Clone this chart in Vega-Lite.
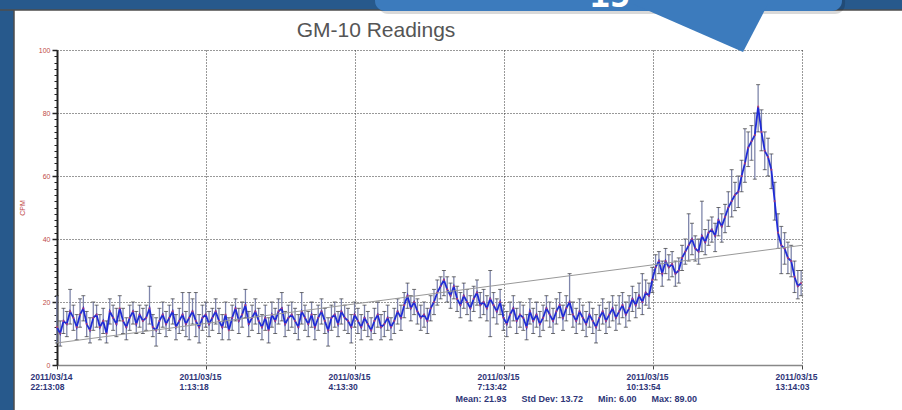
{
"$schema":"https://vega.github.io/schema/vega-lite/v6.json",
"width":745,"height":315,
"autosize":"none",
"padding":{"left":57,"top":50,"right":100,"bottom":45},
"background":"white",
"config":{"view":{"stroke":null},"axis":{"labelOverlap":false}},
"resolve":{"axis":{"y":"independent"}},
"datasets":{
"trend":[{"t":"2011-03-14 22:13:08","v":7},{"t":"2011-03-15 13:14:03","v":38}],
"cpm":[
{"t":"2011-03-14 22:13","v":12,"lo":7,"hi":22},
{"t":"2011-03-14 22:17","v":10,"lo":6,"hi":14},
{"t":"2011-03-14 22:21","v":14,"lo":10,"hi":18},
{"t":"2011-03-14 22:25","v":13,"lo":9,"hi":17},
{"t":"2011-03-14 22:29","v":17,"lo":13,"hi":24},
{"t":"2011-03-14 22:33","v":15,"lo":11,"hi":19},
{"t":"2011-03-14 22:37","v":12,"lo":8,"hi":16},
{"t":"2011-03-14 22:41","v":16,"lo":12,"hi":21},
{"t":"2011-03-14 22:45","v":18,"lo":14,"hi":22},
{"t":"2011-03-14 22:49","v":13,"lo":9,"hi":17},
{"t":"2011-03-14 22:53","v":11,"lo":7,"hi":15},
{"t":"2011-03-14 22:57","v":15,"lo":11,"hi":20},
{"t":"2011-03-14 23:01","v":16,"lo":12,"hi":19},
{"t":"2011-03-14 23:05","v":12,"lo":8,"hi":16},
{"t":"2011-03-14 23:09","v":14,"lo":10,"hi":18},
{"t":"2011-03-14 23:13","v":10,"lo":7,"hi":14},
{"t":"2011-03-14 23:17","v":17,"lo":13,"hi":21},
{"t":"2011-03-14 23:21","v":15,"lo":11,"hi":19},
{"t":"2011-03-14 23:25","v":13,"lo":9,"hi":18},
{"t":"2011-03-14 23:29","v":18,"lo":14,"hi":22},
{"t":"2011-03-14 23:33","v":14,"lo":10,"hi":18},
{"t":"2011-03-14 23:37","v":12,"lo":8,"hi":15},
{"t":"2011-03-14 23:41","v":15,"lo":11,"hi":19},
{"t":"2011-03-14 23:45","v":17,"lo":13,"hi":20},
{"t":"2011-03-14 23:49","v":13,"lo":10,"hi":17},
{"t":"2011-03-14 23:53","v":16,"lo":12,"hi":19},
{"t":"2011-03-14 23:57","v":14,"lo":10,"hi":18},
{"t":"2011-03-15 00:01","v":15,"lo":11,"hi":19},
{"t":"2011-03-15 00:05","v":18,"lo":13,"hi":25},
{"t":"2011-03-15 00:09","v":12,"lo":9,"hi":16},
{"t":"2011-03-15 00:13","v":11,"lo":6,"hi":15},
{"t":"2011-03-15 00:17","v":14,"lo":10,"hi":18},
{"t":"2011-03-15 00:21","v":16,"lo":12,"hi":20},
{"t":"2011-03-15 00:25","v":13,"lo":9,"hi":17},
{"t":"2011-03-15 00:29","v":15,"lo":11,"hi":19},
{"t":"2011-03-15 00:33","v":17,"lo":13,"hi":21},
{"t":"2011-03-15 00:37","v":12,"lo":8,"hi":16},
{"t":"2011-03-15 00:41","v":14,"lo":10,"hi":18},
{"t":"2011-03-15 00:45","v":16,"lo":11,"hi":23},
{"t":"2011-03-15 00:49","v":13,"lo":9,"hi":17},
{"t":"2011-03-15 00:53","v":15,"lo":8,"hi":23},
{"t":"2011-03-15 00:57","v":17,"lo":13,"hi":21},
{"t":"2011-03-15 01:01","v":14,"lo":9,"hi":23},
{"t":"2011-03-15 01:05","v":12,"lo":7,"hi":16},
{"t":"2011-03-15 01:09","v":15,"lo":11,"hi":19},
{"t":"2011-03-15 01:13","v":16,"lo":12,"hi":20},
{"t":"2011-03-15 01:17","v":13,"lo":9,"hi":17},
{"t":"2011-03-15 01:21","v":15,"lo":11,"hi":18},
{"t":"2011-03-15 01:25","v":17,"lo":13,"hi":21},
{"t":"2011-03-15 01:29","v":14,"lo":10,"hi":18},
{"t":"2011-03-15 01:33","v":12,"lo":8,"hi":16},
{"t":"2011-03-15 01:37","v":16,"lo":12,"hi":20},
{"t":"2011-03-15 01:41","v":11,"lo":8,"hi":15},
{"t":"2011-03-15 01:45","v":15,"lo":11,"hi":19},
{"t":"2011-03-15 01:49","v":18,"lo":14,"hi":21},
{"t":"2011-03-15 01:53","v":14,"lo":10,"hi":18},
{"t":"2011-03-15 01:57","v":16,"lo":12,"hi":20},
{"t":"2011-03-15 02:01","v":19,"lo":15,"hi":24},
{"t":"2011-03-15 02:05","v":13,"lo":9,"hi":17},
{"t":"2011-03-15 02:09","v":15,"lo":11,"hi":19},
{"t":"2011-03-15 02:13","v":17,"lo":13,"hi":21},
{"t":"2011-03-15 02:17","v":14,"lo":10,"hi":18},
{"t":"2011-03-15 02:21","v":12,"lo":8,"hi":16},
{"t":"2011-03-15 02:25","v":15,"lo":11,"hi":19},
{"t":"2011-03-15 02:29","v":11,"lo":7,"hi":15},
{"t":"2011-03-15 02:33","v":16,"lo":12,"hi":20},
{"t":"2011-03-15 02:37","v":14,"lo":10,"hi":18},
{"t":"2011-03-15 02:41","v":17,"lo":13,"hi":21},
{"t":"2011-03-15 02:45","v":18,"lo":14,"hi":23},
{"t":"2011-03-15 02:49","v":13,"lo":9,"hi":17},
{"t":"2011-03-15 02:53","v":15,"lo":11,"hi":19},
{"t":"2011-03-15 02:57","v":16,"lo":12,"hi":20},
{"t":"2011-03-15 03:01","v":14,"lo":10,"hi":18},
{"t":"2011-03-15 03:05","v":12,"lo":8,"hi":16},
{"t":"2011-03-15 03:09","v":17,"lo":13,"hi":23},
{"t":"2011-03-15 03:13","v":15,"lo":11,"hi":19},
{"t":"2011-03-15 03:17","v":13,"lo":9,"hi":17},
{"t":"2011-03-15 03:21","v":16,"lo":12,"hi":20},
{"t":"2011-03-15 03:25","v":12,"lo":8,"hi":16},
{"t":"2011-03-15 03:29","v":15,"lo":11,"hi":19},
{"t":"2011-03-15 03:33","v":17,"lo":13,"hi":21},
{"t":"2011-03-15 03:37","v":14,"lo":10,"hi":18},
{"t":"2011-03-15 03:41","v":11,"lo":6,"hi":15},
{"t":"2011-03-15 03:45","v":15,"lo":11,"hi":19},
{"t":"2011-03-15 03:49","v":16,"lo":12,"hi":20},
{"t":"2011-03-15 03:53","v":13,"lo":9,"hi":17},
{"t":"2011-03-15 03:57","v":17,"lo":13,"hi":21},
{"t":"2011-03-15 04:01","v":15,"lo":11,"hi":19},
{"t":"2011-03-15 04:05","v":14,"lo":10,"hi":18},
{"t":"2011-03-15 04:09","v":12,"lo":7,"hi":16},
{"t":"2011-03-15 04:13","v":16,"lo":12,"hi":20},
{"t":"2011-03-15 04:17","v":14,"lo":10,"hi":18},
{"t":"2011-03-15 04:21","v":12,"lo":8,"hi":16},
{"t":"2011-03-15 04:25","v":15,"lo":11,"hi":19},
{"t":"2011-03-15 04:29","v":13,"lo":9,"hi":17},
{"t":"2011-03-15 04:33","v":11,"lo":8,"hi":15},
{"t":"2011-03-15 04:37","v":14,"lo":10,"hi":18},
{"t":"2011-03-15 04:41","v":16,"lo":12,"hi":20},
{"t":"2011-03-15 04:45","v":12,"lo":8,"hi":16},
{"t":"2011-03-15 04:49","v":13,"lo":9,"hi":17},
{"t":"2011-03-15 04:53","v":15,"lo":11,"hi":19},
{"t":"2011-03-15 04:57","v":12,"lo":8,"hi":15},
{"t":"2011-03-15 05:01","v":14,"lo":10,"hi":18},
{"t":"2011-03-15 05:05","v":17,"lo":13,"hi":21},
{"t":"2011-03-15 05:09","v":15,"lo":11,"hi":19},
{"t":"2011-03-15 05:13","v":19,"lo":15,"hi":23},
{"t":"2011-03-15 05:17","v":22,"lo":18,"hi":26},
{"t":"2011-03-15 05:21","v":18,"lo":14,"hi":22},
{"t":"2011-03-15 05:25","v":20,"lo":16,"hi":24},
{"t":"2011-03-15 05:29","v":17,"lo":13,"hi":21},
{"t":"2011-03-15 05:33","v":15,"lo":11,"hi":19},
{"t":"2011-03-15 05:37","v":16,"lo":12,"hi":20},
{"t":"2011-03-15 05:41","v":14,"lo":10,"hi":18},
{"t":"2011-03-15 05:45","v":18,"lo":14,"hi":22},
{"t":"2011-03-15 05:49","v":20,"lo":16,"hi":24},
{"t":"2011-03-15 05:53","v":23,"lo":19,"hi":27},
{"t":"2011-03-15 05:57","v":25,"lo":21,"hi":28},
{"t":"2011-03-15 06:01","v":27,"lo":22,"hi":30},
{"t":"2011-03-15 06:05","v":24,"lo":20,"hi":28},
{"t":"2011-03-15 06:09","v":22,"lo":18,"hi":26},
{"t":"2011-03-15 06:13","v":25,"lo":21,"hi":28},
{"t":"2011-03-15 06:17","v":21,"lo":17,"hi":25},
{"t":"2011-03-15 06:21","v":19,"lo":15,"hi":23},
{"t":"2011-03-15 06:25","v":22,"lo":18,"hi":26},
{"t":"2011-03-15 06:29","v":20,"lo":16,"hi":24},
{"t":"2011-03-15 06:33","v":18,"lo":14,"hi":22},
{"t":"2011-03-15 06:37","v":21,"lo":17,"hi":25},
{"t":"2011-03-15 06:41","v":23,"lo":19,"hi":27},
{"t":"2011-03-15 06:45","v":19,"lo":15,"hi":23},
{"t":"2011-03-15 06:49","v":20,"lo":16,"hi":24},
{"t":"2011-03-15 06:53","v":18,"lo":14,"hi":22},
{"t":"2011-03-15 06:57","v":21,"lo":9,"hi":30},
{"t":"2011-03-15 07:01","v":19,"lo":15,"hi":23},
{"t":"2011-03-15 07:05","v":17,"lo":13,"hi":21},
{"t":"2011-03-15 07:09","v":20,"lo":16,"hi":24},
{"t":"2011-03-15 07:13","v":15,"lo":11,"hi":19},
{"t":"2011-03-15 07:17","v":13,"lo":9,"hi":17},
{"t":"2011-03-15 07:21","v":16,"lo":12,"hi":20},
{"t":"2011-03-15 07:25","v":18,"lo":14,"hi":22},
{"t":"2011-03-15 07:29","v":14,"lo":10,"hi":18},
{"t":"2011-03-15 07:33","v":16,"lo":12,"hi":20},
{"t":"2011-03-15 07:37","v":15,"lo":11,"hi":19},
{"t":"2011-03-15 07:41","v":12,"lo":8,"hi":16},
{"t":"2011-03-15 07:45","v":17,"lo":13,"hi":21},
{"t":"2011-03-15 07:49","v":14,"lo":10,"hi":18},
{"t":"2011-03-15 07:53","v":16,"lo":12,"hi":20},
{"t":"2011-03-15 07:57","v":13,"lo":9,"hi":17},
{"t":"2011-03-15 08:01","v":15,"lo":11,"hi":19},
{"t":"2011-03-15 08:05","v":18,"lo":14,"hi":22},
{"t":"2011-03-15 08:09","v":16,"lo":12,"hi":20},
{"t":"2011-03-15 08:13","v":14,"lo":10,"hi":18},
{"t":"2011-03-15 08:17","v":17,"lo":13,"hi":21},
{"t":"2011-03-15 08:21","v":19,"lo":15,"hi":23},
{"t":"2011-03-15 08:25","v":15,"lo":11,"hi":19},
{"t":"2011-03-15 08:29","v":18,"lo":14,"hi":22},
{"t":"2011-03-15 08:33","v":20,"lo":16,"hi":29},
{"t":"2011-03-15 08:37","v":16,"lo":12,"hi":20},
{"t":"2011-03-15 08:41","v":14,"lo":10,"hi":18},
{"t":"2011-03-15 08:45","v":17,"lo":13,"hi":21},
{"t":"2011-03-15 08:49","v":15,"lo":11,"hi":19},
{"t":"2011-03-15 08:53","v":13,"lo":9,"hi":17},
{"t":"2011-03-15 08:57","v":16,"lo":12,"hi":20},
{"t":"2011-03-15 09:01","v":14,"lo":10,"hi":18},
{"t":"2011-03-15 09:05","v":12,"lo":7,"hi":16},
{"t":"2011-03-15 09:09","v":15,"lo":11,"hi":19},
{"t":"2011-03-15 09:13","v":17,"lo":13,"hi":21},
{"t":"2011-03-15 09:17","v":14,"lo":10,"hi":18},
{"t":"2011-03-15 09:21","v":16,"lo":12,"hi":20},
{"t":"2011-03-15 09:25","v":18,"lo":14,"hi":22},
{"t":"2011-03-15 09:29","v":15,"lo":11,"hi":19},
{"t":"2011-03-15 09:33","v":17,"lo":13,"hi":22},
{"t":"2011-03-15 09:37","v":19,"lo":15,"hi":23},
{"t":"2011-03-15 09:41","v":16,"lo":12,"hi":20},
{"t":"2011-03-15 09:45","v":18,"lo":14,"hi":22},
{"t":"2011-03-15 09:49","v":21,"lo":17,"hi":25},
{"t":"2011-03-15 09:53","v":19,"lo":15,"hi":23},
{"t":"2011-03-15 09:57","v":22,"lo":18,"hi":26},
{"t":"2011-03-15 10:01","v":20,"lo":16,"hi":29},
{"t":"2011-03-15 10:05","v":23,"lo":19,"hi":27},
{"t":"2011-03-15 10:09","v":22,"lo":18,"hi":26},
{"t":"2011-03-15 10:13","v":27,"lo":23,"hi":31},
{"t":"2011-03-15 10:17","v":31,"lo":27,"hi":35},
{"t":"2011-03-15 10:21","v":33,"lo":29,"hi":36},
{"t":"2011-03-15 10:25","v":29,"lo":25,"hi":33},
{"t":"2011-03-15 10:29","v":33,"lo":29,"hi":37},
{"t":"2011-03-15 10:33","v":31,"lo":27,"hi":35},
{"t":"2011-03-15 10:37","v":32,"lo":28,"hi":36},
{"t":"2011-03-15 10:41","v":29,"lo":25,"hi":33},
{"t":"2011-03-15 10:45","v":30,"lo":26,"hi":34},
{"t":"2011-03-15 10:49","v":34,"lo":30,"hi":38},
{"t":"2011-03-15 10:53","v":36,"lo":32,"hi":40},
{"t":"2011-03-15 10:57","v":38,"lo":33,"hi":48},
{"t":"2011-03-15 11:01","v":40,"lo":35,"hi":45},
{"t":"2011-03-15 11:05","v":37,"lo":33,"hi":41},
{"t":"2011-03-15 11:09","v":36,"lo":32,"hi":40},
{"t":"2011-03-15 11:13","v":41,"lo":36,"hi":52},
{"t":"2011-03-15 11:17","v":39,"lo":35,"hi":43},
{"t":"2011-03-15 11:21","v":42,"lo":38,"hi":46},
{"t":"2011-03-15 11:25","v":43,"lo":39,"hi":47},
{"t":"2011-03-15 11:29","v":41,"lo":36,"hi":45},
{"t":"2011-03-15 11:33","v":46,"lo":41,"hi":50},
{"t":"2011-03-15 11:37","v":44,"lo":39,"hi":48},
{"t":"2011-03-15 11:41","v":47,"lo":42,"hi":51},
{"t":"2011-03-15 11:45","v":50,"lo":44,"hi":55},
{"t":"2011-03-15 11:49","v":52,"lo":47,"hi":62},
{"t":"2011-03-15 11:53","v":54,"lo":49,"hi":58},
{"t":"2011-03-15 11:57","v":55,"lo":50,"hi":60},
{"t":"2011-03-15 12:01","v":60,"lo":55,"hi":65},
{"t":"2011-03-15 12:05","v":64,"lo":58,"hi":75},
{"t":"2011-03-15 12:09","v":69,"lo":63,"hi":74},
{"t":"2011-03-15 12:13","v":71,"lo":65,"hi":76},
{"t":"2011-03-15 12:17","v":73,"lo":59,"hi":80},
{"t":"2011-03-15 12:21","v":82,"lo":74,"hi":89},
{"t":"2011-03-15 12:25","v":74,"lo":68,"hi":81},
{"t":"2011-03-15 12:29","v":68,"lo":62,"hi":74},
{"t":"2011-03-15 12:33","v":66,"lo":60,"hi":72},
{"t":"2011-03-15 12:37","v":62,"lo":56,"hi":67},
{"t":"2011-03-15 12:41","v":52,"lo":46,"hi":58},
{"t":"2011-03-15 12:45","v":42,"lo":37,"hi":48},
{"t":"2011-03-15 12:49","v":38,"lo":29,"hi":44},
{"t":"2011-03-15 12:53","v":37,"lo":32,"hi":42},
{"t":"2011-03-15 12:57","v":34,"lo":29,"hi":39},
{"t":"2011-03-15 13:01","v":33,"lo":28,"hi":38},
{"t":"2011-03-15 13:05","v":28,"lo":23,"hi":33},
{"t":"2011-03-15 13:09","v":25,"lo":21,"hi":30},
{"t":"2011-03-15 13:13","v":26,"lo":22,"hi":30}
]},
"layer":[
{"data":{"values":[{}]},
 "mark":{"type":"rect","color":"#27598c","stroke":"#4d4d4d","strokeWidth":1.5,"clip":false},
 "encoding":{
  "x":{"datum":{"year":2011,"month":3,"date":14,"hours":18},"type":"temporal","scale":{"domain":[{"year":2011,"month":3,"date":14,"hours":22,"minutes":13,"seconds":8},{"year":2011,"month":3,"date":15,"hours":13,"minutes":14,"seconds":3}],"nice":false}},
  "x2":{"datum":{"year":2011,"month":3,"date":14,"hours":21,"minutes":21,"seconds":8}},
  "y":{"datum":-60,"type":"quantitative","axis":null,"scale":{"domain":[0,100],"nice":false,"zero":false}},
  "y2":{"datum":160}}},
{"data":{"values":[{}]},
 "mark":{"type":"rect","color":"#27598c","stroke":"#4d4d4d","strokeWidth":1.5,"clip":false},
 "encoding":{
  "x":{"datum":{"year":2011,"month":3,"date":14,"hours":18},"type":"temporal","scale":{"domain":[{"year":2011,"month":3,"date":14,"hours":22,"minutes":13,"seconds":8},{"year":2011,"month":3,"date":15,"hours":13,"minutes":14,"seconds":3}],"nice":false}},
  "x2":{"datum":{"year":2011,"month":3,"date":15,"hours":20}},
  "y":{"datum":112.7,"type":"quantitative","axis":null,"scale":{"domain":[0,100],"nice":false,"zero":false}},
  "y2":{"datum":160}}},
{"data":{"values":[{}]},
 "mark":{"type":"rect","color":"#000000","opacity":0.15,"cornerRadius":10,"clip":false},
 "encoding":{
  "x":{"datum":{"year":2011,"month":3,"date":15,"hours":4,"minutes":41,"seconds":20},"type":"temporal","scale":{"domain":[{"year":2011,"month":3,"date":14,"hours":22,"minutes":13,"seconds":8},{"year":2011,"month":3,"date":15,"hours":13,"minutes":14,"seconds":3}],"nice":false}},
  "x2":{"datum":{"year":2011,"month":3,"date":15,"hours":14,"minutes":6,"seconds":8}},
  "y":{"datum":111.43,"type":"quantitative","axis":null,"scale":{"domain":[0,100],"nice":false,"zero":false}},
  "y2":{"datum":160}}},
{"data":{"values":[{}]},
 "mark":{"type":"rect","color":"#3c7bbd","cornerRadius":10,"clip":false},
 "encoding":{
  "x":{"datum":{"year":2011,"month":3,"date":15,"hours":4,"minutes":37,"seconds":41},"type":"temporal","scale":{"domain":[{"year":2011,"month":3,"date":14,"hours":22,"minutes":13,"seconds":8},{"year":2011,"month":3,"date":15,"hours":13,"minutes":14,"seconds":3}],"nice":false}},
  "x2":{"datum":{"year":2011,"month":3,"date":15,"hours":14,"minutes":2,"seconds":26}},
  "y":{"datum":112.38,"type":"quantitative","axis":null,"scale":{"domain":[0,100],"nice":false,"zero":false}},
  "y2":{"datum":160}}},
{"data":{"values":[{}]},
 "mark":{"type":"point","filled":true,"color":"#3c7bbd","opacity":1,"strokeWidth":0,"size":20736,"shape":"M-1,-0.375L0.875,-0.375L0.528,0.292Z","clip":false},
 "encoding":{
  "x":{"datum":{"year":2011,"month":3,"date":15,"hours":11,"minutes":16,"seconds":47},"type":"temporal","scale":{"domain":[{"year":2011,"month":3,"date":14,"hours":22,"minutes":13,"seconds":8},{"year":2011,"month":3,"date":15,"hours":13,"minutes":14,"seconds":3}],"nice":false}},
  "y":{"datum":106.03,"type":"quantitative","axis":null,"scale":{"domain":[0,100],"nice":false,"zero":false}}}},
{"data":{"values":[{}]},
 "mark":{"type":"text","text":"15","color":"#ffffff","font":"DejaVu Sans Mono","fontWeight":"bold","fontSize":34,"align":"center","baseline":"alphabetic","clip":false},
 "encoding":{
  "x":{"datum":{"year":2011,"month":3,"date":15,"hours":9,"minutes":21,"seconds":52},"type":"temporal","scale":{"domain":[{"year":2011,"month":3,"date":14,"hours":22,"minutes":13,"seconds":8},{"year":2011,"month":3,"date":15,"hours":13,"minutes":14,"seconds":3}],"nice":false}},
  "y":{"datum":113.65,"type":"quantitative","axis":null,"scale":{"domain":[0,100],"nice":false,"zero":false}}}},
{"data":{"values":[{}]},
 "mark":{"type":"text","text":"GM-10 Readings","color":"#555555","font":"Liberation Sans","fontWeight":"normal","fontSize":21,"align":"center","baseline":"alphabetic","clip":false},
 "encoding":{
  "x":{"datum":{"year":2011,"month":3,"date":15,"hours":4,"minutes":38,"seconds":54},"type":"temporal","scale":{"domain":[{"year":2011,"month":3,"date":14,"hours":22,"minutes":13,"seconds":8},{"year":2011,"month":3,"date":15,"hours":13,"minutes":14,"seconds":3}],"nice":false}},
  "y":{"datum":104.13,"type":"quantitative","axis":null,"scale":{"domain":[0,100],"nice":false,"zero":false}}}},
{"data":{"name":"cpm"},
 "mark":{"type":"rule","color":"#7f86ab","strokeWidth":1.3},
 "encoding":{
  "x":{"field":"t","type":"temporal","scale":{"domain":[{"year":2011,"month":3,"date":14,"hours":22,"minutes":13,"seconds":8},{"year":2011,"month":3,"date":15,"hours":13,"minutes":14,"seconds":3}],"nice":false},
   "axis":{"values":[{"year":2011,"month":3,"date":14,"hours":22,"minutes":13,"seconds":8},{"year":2011,"month":3,"date":15,"hours":1,"minutes":13,"seconds":18},{"year":2011,"month":3,"date":15,"hours":4,"minutes":13,"seconds":30},{"year":2011,"month":3,"date":15,"hours":7,"minutes":13,"seconds":42},{"year":2011,"month":3,"date":15,"hours":10,"minutes":13,"seconds":54},{"year":2011,"month":3,"date":15,"hours":13,"minutes":14,"seconds":3}],
    "labelExpr":"[timeFormat(datum.value,'%Y/%m/%d'), timeFormat(datum.value,'%-H:%M:%S')]",
    "labelAlign":"left","labelOffset":-27,"labelBaseline":"top","labelColor":"#2e3577","labelFontSize":8.5,"labelFontWeight":"bold","labelFont":"Liberation Sans","labelLineHeight":10,"labelPadding":3,"labelFlush":false,"labelOverlap":false,"labelBound":false,
    "tickSize":4,"tickColor":"#444444","domainColor":"#888888","domainWidth":1.5,
    "grid":true,"gridDash":[1,2],"gridColor":"#333333","gridWidth":1,
    "title":"Mean: 21.93\u00a0\u00a0\u00a0\u00a0\u00a0\u00a0Std Dev: 13.72\u00a0\u00a0\u00a0\u00a0\u00a0\u00a0Min: 6.00\u00a0\u00a0\u00a0\u00a0\u00a0\u00a0Max: 89.00",
    "titleX":398,"titleY":33,"titleAlign":"left","titleAnchor":"start","titleBaseline":"middle","titleFontSize":9,"titleColor":"#2e3577","titleFontWeight":"bold","titleFont":"Liberation Sans"}},
  "y":{"field":"lo","type":"quantitative","scale":{"domain":[0,100],"nice":false,"zero":false},
   "axis":{"values":[0,20,40,60,80,100],
    "labelColor":"#c04a4a","labelFontSize":7,"labelFont":"Liberation Sans","labelPadding":2,"labelOverlap":false,
    "tickSize":5,"tickColor":"#222222","tickWidth":1.5,"domainColor":"#222222","domainWidth":2,
    "grid":true,"gridDash":[1,2],"gridColor":"#333333","gridWidth":1,
    "title":"CPM","titleColor":"#c04a4a","titleFontSize":7,"titleFont":"Liberation Sans","titleFontWeight":"normal","titlePadding":13}},
  "y2":{"field":"hi"}}},
{"data":{"name":"cpm"},
 "mark":{"type":"tick","orient":"horizontal","color":"#333333","size":4,"thickness":1},
 "encoding":{
  "x":{"field":"t","type":"temporal","scale":{"domain":[{"year":2011,"month":3,"date":14,"hours":22,"minutes":13,"seconds":8},{"year":2011,"month":3,"date":15,"hours":13,"minutes":14,"seconds":3}],"nice":false}},
  "y":{"field":"hi","type":"quantitative","scale":{"domain":[0,100],"nice":false,"zero":false},
   "axis":{"orient":"left","offset":0,"values":[2,4,6,8,10,12,14,16,18,22,24,26,28,30,32,34,36,38,42,44,46,48,50,52,54,56,58,62,64,66,68,70,72,74,76,78,82,84,86,88,90,92,94,96,98],
    "labels":false,"domain":false,"grid":false,"title":null,"ticks":true,"tickSize":3,"tickColor":"#222222","tickWidth":1}}}},
{"data":{"name":"cpm"},
 "mark":{"type":"tick","orient":"horizontal","color":"#333333","size":4,"thickness":1},
 "encoding":{
  "x":{"field":"t","type":"temporal","scale":{"domain":[{"year":2011,"month":3,"date":14,"hours":22,"minutes":13,"seconds":8},{"year":2011,"month":3,"date":15,"hours":13,"minutes":14,"seconds":3}],"nice":false}},
  "y":{"field":"lo","type":"quantitative","axis":null,"scale":{"domain":[0,100],"nice":false,"zero":false}}}},
{"data":{"name":"cpm"},
 "mark":{"type":"line","color":"#1f2bd6","strokeWidth":1.8},
 "encoding":{
  "x":{"field":"t","type":"temporal","scale":{"domain":[{"year":2011,"month":3,"date":14,"hours":22,"minutes":13,"seconds":8},{"year":2011,"month":3,"date":15,"hours":13,"minutes":14,"seconds":3}],"nice":false}},
  "y":{"field":"v","type":"quantitative","axis":null,"scale":{"domain":[0,100],"nice":false,"zero":false}}}},
{"data":{"name":"cpm"},
 "mark":{"type":"point","filled":true,"color":"#d04060","size":5,"opacity":0.7},
 "encoding":{
  "x":{"field":"t","type":"temporal","scale":{"domain":[{"year":2011,"month":3,"date":14,"hours":22,"minutes":13,"seconds":8},{"year":2011,"month":3,"date":15,"hours":13,"minutes":14,"seconds":3}],"nice":false}},
  "y":{"field":"v","type":"quantitative","axis":null,"scale":{"domain":[0,100],"nice":false,"zero":false}}}},
{"data":{"name":"trend"},
 "mark":{"type":"line","color":"#999999","strokeWidth":1},
 "encoding":{
  "x":{"field":"t","type":"temporal","scale":{"domain":[{"year":2011,"month":3,"date":14,"hours":22,"minutes":13,"seconds":8},{"year":2011,"month":3,"date":15,"hours":13,"minutes":14,"seconds":3}],"nice":false}},
  "y":{"field":"v","type":"quantitative","axis":null,"scale":{"domain":[0,100],"nice":false,"zero":false}}}}
]
}
